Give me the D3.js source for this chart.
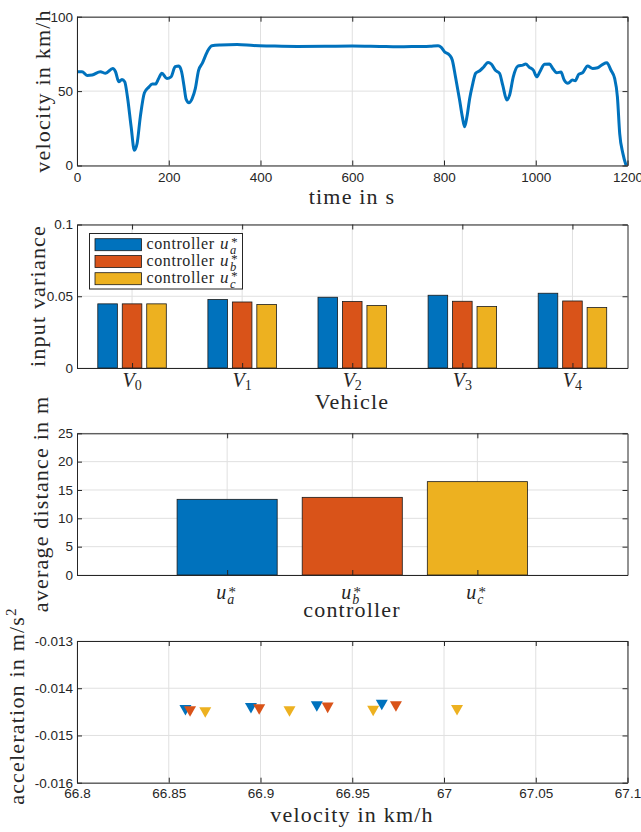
<!DOCTYPE html>
<html>
<head>
<meta charset="UTF-8">
<script src="https://cdnjs.cloudflare.com/ajax/libs/d3/7.8.5/d3.min.js"></script>
<style>
    body { margin: 0; background: #fff; }
    svg text { fill: #262626; }
    .tick text { font-family: "Liberation Sans", Arial, sans-serif; font-size: 13.5px; fill: #262626; }
    .tick line, .domain { stroke: #262626; }
    .lab { font-family: "Liberation Serif", serif; font-size: 22px; letter-spacing: 1.2px; }
    .math { font-family: "Liberation Serif", serif; font-style: italic; }
    .grid line { stroke: #e0e0e0; stroke-width: 1; }
</style>
</head>
<body>
<svg id="fig" width="641" height="832"></svg>
<script>
// ---- data ----
var time  = [0, 11, 22, 33, 51, 62, 78, 84, 91, 98, 104, 110, 118, 125, 131, 138, 147, 156, 164, 171,
             178, 185, 196, 205, 214, 222, 228, 233, 238, 244, 251, 258, 265, 273, 284, 294, 313, 349, 385, 422,
             480, 540, 600, 660, 700, 740, 770, 787, 794, 801, 812, 818, 825, 834, 840, 845, 850, 856, 862, 869,
             878, 886, 896, 903, 912, 921, 928, 937, 943, 951, 961, 972, 978, 986, 995, 1002, 1009, 1019, 1030, 1037,
             1046, 1055, 1062, 1070, 1080, 1086, 1094, 1102, 1113, 1124, 1135, 1146, 1155, 1164, 1172, 1178, 1183, 1190, 1197];
var speed = [63, 63, 60.5, 60.8, 63, 62, 65.2, 63, 56.3, 57.8, 56.3, 46, 26, 10.3, 14.8, 32.7, 48.9, 52.5, 54.7, 54.7,
             58.5, 62, 58.5, 59.6, 66.4, 66.8, 63, 54, 44.4, 42.2, 45, 51.8, 64, 68.6, 76.5, 80.5, 81, 81.3, 80.6, 80.3,
             80.0, 80.1, 80.3, 80.0, 79.8, 80.0, 80.2, 80.5, 79.4, 76.5, 74.2, 70.9, 59.6, 44, 32.7, 26, 32.7, 45, 54, 62,
             63.7, 66, 69.3, 68.2, 64, 62, 54, 44, 47.3, 59.6, 66.8, 67.5, 68.2, 66, 64, 59.6, 63, 68, 68.2, 65.2,
             62.3, 62.8, 57.4, 55.2, 57.4, 57, 61.4, 62.3, 66.8, 65.2, 65.7, 68, 69, 64, 58.5, 46.2, 21.5, 8, 0];

var vehicles   = ["0", "1", "2", "3", "4"];
var variance_a = [0.0447, 0.0477, 0.0493, 0.0507, 0.0521];
var variance_b = [0.0447, 0.0460, 0.0463, 0.0465, 0.0467];
var variance_c = [0.0447, 0.0442, 0.0435, 0.0428, 0.0421];

var controllers = ["a", "b", "c"];
var avgDistance = [13.35, 13.7, 16.47];

var vel_a = [66.8591, 66.8948, 66.9307, 66.9661];
var acc_a = [-0.014465, -0.014423, -0.014387, -0.014353];
var vel_b = [66.8616, 66.8993, 66.9366, 66.9738];
var acc_b = [-0.014493, -0.014450, -0.014416, -0.014387];
var vel_c = [66.8699, 66.9158, 66.9614, 67.0071];
var acc_c = [-0.014514, -0.014493, -0.014480, -0.014465];

var colors = ["#0072BD", "#D95319", "#EDB120"];

// ---- layout ----
var L = 77, R = 627.5;
var svg = d3.select("#fig");

function gridLines(g, x, y, xt, yt) {
    var gr = g.append("g").attr("class", "grid");
    var yr = y.range(), xr = x.range();
    gr.selectAll(".gx").data(xt).enter().append("line")
        .attr("x1", d => x(d)).attr("x2", d => x(d))
        .attr("y1", yr[0]).attr("y2", yr[1]);
    gr.selectAll(".gy").data(yt).enter().append("line")
        .attr("y1", d => y(d)).attr("y2", d => y(d))
        .attr("x1", xr[0]).attr("x2", xr[1]);
}

function frame(g, x, y, xt, yt, fx, fy, pad) {
    var yr = y.range(), xr = x.range();
    g.append("g").attr("transform", `translate(0,${yr[0]})`)
        .call(d3.axisBottom(x).tickValues(xt).tickSizeInner(-5).tickSizeOuter(0).tickPadding(pad).tickFormat(fx));
    g.append("g").attr("transform", `translate(0,${yr[1]})`)
        .call(d3.axisTop(x).tickValues(xt).tickSizeInner(-5).tickSizeOuter(0).tickFormat(""));
    g.append("g").attr("transform", `translate(${xr[0]},0)`)
        .call(d3.axisLeft(y).tickValues(yt).tickSizeInner(-5).tickSizeOuter(0).tickPadding(4).tickFormat(fy));
    g.append("g").attr("transform", `translate(${xr[1]},0)`)
        .call(d3.axisRight(y).tickValues(yt).tickSizeInner(-5).tickSizeOuter(0).tickFormat(""));
}

function xlabel(txt, cx, base) {
    svg.append("text").attr("class", "lab").attr("x", cx).attr("y", base)
        .attr("text-anchor", "middle").text(txt);
}
function ylabel(html, bx, cy) {
    svg.append("text").attr("class", "lab")
        .attr("transform", `translate(${bx},${cy}) rotate(-90)`)
        .attr("text-anchor", "middle").html(html);
}

// ---- plot 1: velocity over time ----
var x1 = d3.scaleLinear().domain([0, 1200]).range([L, R]);
var y1 = d3.scaleLinear().domain([0, 100]).range([165.5, 16.7]);
var g1 = svg.append("g");
gridLines(g1, x1, y1, d3.range(0, 1201, 200), [0, 50, 100]);
var line = d3.line().x((d, i) => x1(time[i])).y(d => y1(d)).curve(d3.curveMonotoneX);
g1.append("path").datum(speed).attr("d", line)
    .attr("fill", "none").attr("stroke", colors[0]).attr("stroke-width", 3)
    .attr("stroke-linejoin", "round");
frame(g1, x1, y1, d3.range(0, 1201, 200), [0, 50, 100], d3.format("d"), d3.format("d"), 7);
xlabel("time in s", 352, 204);
ylabel("velocity in km/h", 50, 91);

// ---- plot 2: input variance per vehicle ----
var x2 = d3.scaleLinear().domain([0.5, 5.5]).range([L, R]);
var y2 = d3.scaleLinear().domain([0, 0.1]).range([368, 224.5]);
var g2 = svg.append("g");
gridLines(g2, x2, y2, [1, 2, 3, 4, 5], [0, 0.05, 0.1]);
var series2 = [variance_a, variance_b, variance_c];
var step = 2 / 9, bw = 0.8 * step;
series2.forEach(function(s, k) {
    g2.append("g").selectAll("rect").data(s).enter().append("rect")
        .attr("x", (d, i) => x2(i + 1 + (k - 1) * step - bw / 2))
        .attr("width", x2(bw) - x2(0))
        .attr("y", d => y2(d))
        .attr("height", d => y2(0) - y2(d))
        .attr("fill", colors[k]).attr("stroke", "#1a1a1a").attr("stroke-width", 0.8);
});
frame(g2, x2, y2, [1, 2, 3, 4, 5], [0, 0.05, 0.1], "", d => d === 0 ? "0" : d3.format("")(d), 7);
vehicles.forEach(function(v, i) {
    var t = svg.append("text").attr("class", "math").attr("font-size", 20)
        .attr("x", x2(i + 1)).attr("y", 387).attr("text-anchor", "middle");
    t.append("tspan").text("V");
    t.append("tspan").attr("font-style", "normal").attr("font-size", 14).attr("dy", 3).text(v);
});
xlabel("Vehicle", 352, 409);
ylabel("input variance", 45, 296);

// legend
var leg = svg.append("g");
leg.append("rect").attr("x", 89.5).attr("y", 233.5).attr("width", 153).attr("height", 55.5)
    .attr("fill", "#fff").attr("stroke", "#262626").attr("stroke-width", 1);
var rowY = [244.7, 261.5, 278.7];
controllers.forEach(function(c, k) {
    leg.append("rect").attr("x", 95).attr("y", rowY[k] - 6).attr("width", 46.5).attr("height", 12)
        .attr("fill", colors[k]).attr("stroke", "#1a1a1a").attr("stroke-width", 0.8);
    leg.append("text").attr("class", "lab")
        .style("font-size", "16px").style("letter-spacing", "0.6px")
        .attr("x", 146.5).attr("y", rowY[k] + 4).text("controller");
    leg.append("text").attr("class", "math").attr("font-size", 17)
        .attr("x", 220).attr("y", rowY[k] + 4).text("u");
    leg.append("text").attr("class", "math").attr("font-style", "normal").attr("font-size", 13)
        .attr("x", 230.5).attr("y", rowY[k] + 1).text("*");
    leg.append("text").attr("class", "math").attr("font-size", 12.5)
        .attr("x", 230).attr("y", rowY[k] + 9).text(c);
});

// ---- plot 3: average distance per controller ----
var x3 = d3.scaleLinear().domain([-0.2, 4.2]).range([L, R]);
var y3 = d3.scaleLinear().domain([0, 25]).range([575, 433.3]);
var g3 = svg.append("g");
gridLines(g3, x3, y3, [1, 2, 3], d3.range(0, 26, 5));
g3.append("g").selectAll("rect").data(avgDistance).enter().append("rect")
    .attr("x", (d, i) => x3(i + 1 - 0.4))
    .attr("width", x3(0.8) - x3(0))
    .attr("y", d => y3(d))
    .attr("height", d => y3(0) - y3(d))
    .attr("fill", (d, i) => colors[i]).attr("stroke", "#1a1a1a").attr("stroke-width", 0.8);
frame(g3, x3, y3, [1, 2, 3], d3.range(0, 26, 5), "", d3.format("d"), 7);
controllers.forEach(function(c, i) {
    var cx = x3(i + 1);
    svg.append("text").attr("class", "math").attr("font-size", 20).attr("x", cx - 11).attr("y", 599).text("u");
    svg.append("text").attr("class", "math").attr("font-style", "normal").attr("font-size", 15)
        .attr("x", cx + 0.5).attr("y", 597).text("*");
    svg.append("text").attr("class", "math").attr("font-size", 14).attr("x", cx).attr("y", 604).text(c);
});
xlabel("controller", 352, 617);
ylabel("average distance in m", 48, 504);

// ---- plot 4: acceleration vs velocity ----
var x4 = d3.scaleLinear().domain([66.8, 67.1]).range([L, R]);
var y4 = d3.scaleLinear().domain([-0.016, -0.013]).range([782.7, 641]);
var g4 = svg.append("g");
var xt4 = [66.8, 66.85, 66.9, 66.95, 67, 67.05, 67.1];
var yt4 = [-0.016, -0.015, -0.014, -0.013];
gridLines(g4, x4, y4, xt4, yt4);
var triDown = {
    draw: function(ctx, size) {
        var w = Math.sqrt(size), h = w * 0.88;
        ctx.moveTo(-w / 2, -h / 2);
        ctx.lineTo(w / 2, -h / 2);
        ctx.lineTo(0, h / 2);
        ctx.closePath();
    }
};
var sym = d3.symbol().type(triDown).size(144);
[[vel_a, acc_a], [vel_b, acc_b], [vel_c, acc_c]].forEach(function(s, k) {
    g4.append("g").selectAll("path").data(s[0]).enter().append("path")
        .attr("d", sym)
        .attr("transform", (d, i) => `translate(${x4(d)},${y4(s[1][i])})`)
        .attr("fill", colors[k]);
});
frame(g4, x4, y4, xt4, yt4, d => String(+d.toFixed(2)), d => String(+d.toFixed(3)), 6);
xlabel("velocity in km/h", 352, 822);
ylabel('acceleration in m/s<tspan dy="-8" font-size="15">2</tspan>', 24, 706);
</script>
</body>
</html>
